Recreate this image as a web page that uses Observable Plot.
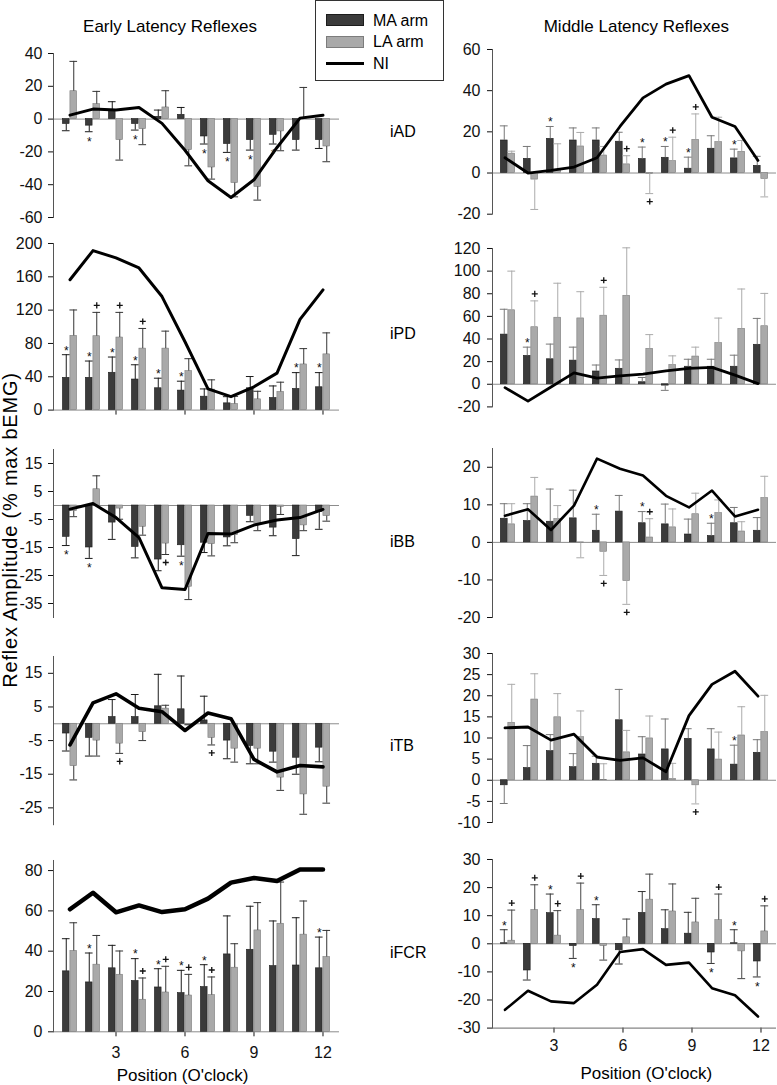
<!DOCTYPE html>
<html><head><meta charset="utf-8">
<script src="https://cdn.jsdelivr.net/npm/d3@7"></script>
<script src="https://cdn.jsdelivr.net/npm/@observablehq/plot@0.6"></script>
<style>
body{margin:0;background:#fff;}
#chart{position:relative;width:777px;height:1085px;background:#fff;font-family:"Liberation Sans",Arial,sans-serif;color:#000;overflow:hidden}
.abs{position:absolute;white-space:nowrap;line-height:1}
.panel{position:absolute}
</style></head><body><div id="chart"></div>
<script>
// ---------- categories & tick labels ----------
var positions = [1,2,3,4,5,6,7,8,9,10,11,12];
var xTicks = [3,6,9,12];
var series = ["MA arm","LA arm","NI"];
var columnTitles = ["Early Latency Reflexes","Middle Latency Reflexes"];
var muscles = ["iAD","iPD","iBB","iTB","iFCR"];

var early_iAD_domain = [-60,40],  early_iAD_ticks = [-60,-40,-20,0,20,40];
var middle_iAD_domain = [-20,60], middle_iAD_ticks = [-20,0,20,40,60];
var early_iPD_domain = [0,200],   early_iPD_ticks = [0,40,80,120,160,200];
var middle_iPD_domain = [-20,120],middle_iPD_ticks = [-20,0,20,40,60,80,100,120];
var early_iBB_domain = [-40,20],  early_iBB_ticks = [-35,-25,-15,-5,5,15];
var middle_iBB_domain = [-20,25], middle_iBB_ticks = [-20,-10,0,10,20];
var early_iTB_domain = [-30,20],  early_iTB_ticks = [-25,-15,-5,5,15];
var middle_iTB_domain = [-10,30], middle_iTB_ticks = [-10,-5,0,5,10,15,20,25,30];
var early_iFCR_domain = [0,85],   early_iFCR_ticks = [0,20,40,60,80];
var middle_iFCR_domain = [-30,30],middle_iFCR_ticks = [-30,-20,-10,0,10,20,30];

// ---------- values (MA = mean, MAerr = error bar end) ----------
var early_iAD_MA    = [-3,-4,5,-3,1.4,2.6,-10.6,-15.2,-12.8,-9.6,-12.8,-12.8];
var early_iAD_MAerr = [-7.1,-7.7,10.6,-6.7,5.5,7.1,-15.2,-20.3,-18.9,-15.2,-18.9,-17.9];
var early_iAD_LA    = [17,9.1,-12.8,-6.1,7.1,-18.9,-29.5,-39,-41.3,-7.5,0.3,-16.7];
var early_iAD_LAerr = [35.2,16.9,-25,-15.6,17.3,-28.5,-36.6,-47.4,-49.4,-19.3,19.3,-26];
var early_iAD_NI    = [2.4,6.1,5.5,7.1,-2.6,-19,-37.6,-47.8,-37,-17.3,0.6,2.4];
var early_iAD_MAsig = ["","*","","*","","","*","*","*","*","",""];
var early_iAD_LAsig = ["","","","","","","","","","","",""];

var middle_iAD_MA    = [15.8,6.9,16.6,15.8,15.8,15.2,6.8,7.4,2.1,11.8,7.1,3.5];
var middle_iAD_MAerr = [22.9,12.9,22.6,21.9,21.9,19.8,12.6,12.9,7.7,18.1,11.6,8.1];
var middle_iAD_LA    = [9.4,-3.2,1.6,12.9,8.5,4.2,-0.4,5.8,16.1,15,10.3,-2.9];
var middle_iAD_LAerr = [10.6,-17.7,14.2,19.7,12.9,8.4,-10,17.4,28.7,27.1,15.8,-11.6];
var middle_iAD_NI    = [7.4,0,1.3,2.9,7.4,22.6,36.5,43.2,47.3,27.1,22.6,6.1];
var middle_iAD_MAsig = ["","","*","","","","*","*","*","","*",""];
var middle_iAD_LAsig = ["","","","","","+","+","+","+","","",""];

var early_iPD_MA    = [38.7,38.7,44.8,36.7,26.2,23.4,16.1,8.1,26.2,14.5,25.4,27.4];
var early_iPD_MAerr = [66.5,58.9,63.7,54.4,38.3,34.7,25.4,16.1,40.3,29,45,45];
var early_iPD_LA    = [89.1,88.7,87.1,73.8,73.8,46.8,24.6,7.3,12.9,21.8,54.8,66.9];
var early_iPD_LAerr = [120.2,117.3,117.3,98,94.8,61.7,36.3,16.5,22.6,33.5,73.8,92.7];
var early_iPD_NI    = [156.5,191.5,182.7,170.6,136.3,82,25.4,16.1,28,44.4,108.9,144.4];
var early_iPD_MAsig = ["*","*","*","*","*","*","","","","","*","*"];
var early_iPD_LAsig = ["","+","+","+","","","","","","","",""];

var middle_iPD_MA    = [43.9,25.1,22.1,20.9,11.3,13.7,1.8,-1.2,15.5,15.5,15.5,34.9];
var middle_iPD_MAerr = [66.3,32.8,35.5,32.8,17,21.5,6,-5.4,22.1,22.1,25.7,58.2];
var middle_iPD_LA    = [65.4,50.4,58.8,58.2,60.6,78.2,31.3,17,24.5,36.4,49,51.3];
var middle_iPD_LAerr = [100,73.7,89.3,81.8,85.7,120.6,43.9,25.1,32.8,58.5,84.2,80.3];
var middle_iPD_NI    = [-3,-14.9,-2.4,10.1,5.4,7.5,9,11.9,14,14.9,8.1,0.6];
var middle_iPD_MAsig = ["","*","","","","","","","","","",""];
var middle_iPD_LAsig = ["","+","","","+","","","","","","",""];

var early_iBB_MA    = [-11.2,-15,-6.1,-14.8,-19.3,-14.2,-13.3,-11.4,-3.7,-7.9,-12,-2.3];
var early_iBB_MAerr = [-14.3,-18.9,-12.1,-18.7,-23.3,-18.1,-16.8,-14.4,-5.8,-10.8,-17.9,-8.5];
var early_iBB_LA    = [-2,5.8,-1.1,-7.6,-13.6,-29,-13.8,-10.6,-6.8,-0.5,-7.1,-3.8];
var early_iBB_LAerr = [-4,10.6,-4.9,-10.6,-17.5,-33.6,-18,-13.3,-9,-3.2,-9,-5.6];
var early_iBB_NI    = [-1.3,0.7,-4.3,-11.5,-29.4,-30,-10,-10.2,-7,-5.2,-4.3,-1.4];
var early_iBB_MAsig = ["*","*","","","","*","","","","","",""];
var early_iBB_LAsig = ["","","","","+","","","","","","",""];

var middle_iBB_MA    = [6.3,5.7,5.5,6.4,3.1,8.2,5.1,4.8,2.1,1.7,5.1,3.1];
var middle_iBB_MAerr = [10.3,10.3,14.2,13.9,7.5,12.5,8.2,10.2,6.2,5.1,9.3,6.6];
var middle_iBB_LA    = [4.8,12.2,6.2,-0.2,-2.5,-10.3,1.3,4,7.5,7.8,2.9,11.8];
var middle_iBB_LAerr = [10.3,17.3,9.8,-4.1,-8.8,-16.5,6.3,8.9,13.1,11.3,5.5,17.6];
var middle_iBB_NI    = [7.1,8.8,3.3,9.8,22.3,19.6,17.8,12.4,9.3,13.8,6.9,8.7];
var middle_iBB_MAsig = ["","","","","*","","*","","","*","",""];
var middle_iBB_LAsig = ["","","","","+","+","+","","","","",""];

var early_iTB_MA    = [-2.9,-4.2,2,2,5.2,4.3,1,-5,-6.6,-8.3,-10.1,-7.1];
var early_iTB_MAerr = [-8.1,-9.6,7.2,8.7,14.7,14.2,8.2,-10.4,-11.9,-11.4,-15,-11.3];
var early_iTB_LA    = [-12.6,-5,-5.9,-2.5,4.5,-0.3,-4.2,-7.4,-7.4,-16,-21,-18.7];
var early_iTB_LAerr = [-16.7,-9.6,-8.8,-5,5.5,-0.3,-6.3,-11.4,-11.9,-19.8,-26.9,-23.6];
var early_iTB_NI    = [-6.3,6.2,8.9,4.6,3.6,-2,3.2,1.5,-10.6,-14.3,-12.4,-12.8];
var early_iTB_MAsig = ["","","","","","","","","","","",""];
var early_iTB_LAsig = ["","","+","","","","+","","","","",""];

var middle_iTB_MA    = [-1.2,2.9,6.9,3.1,3.9,14.2,6.1,7.3,9.8,7.3,3.7,6.5];
var middle_iTB_MAerr = [-5.5,8.2,10.8,6.3,5.7,21.5,10.3,14.5,12.2,12.2,8.3,9.6];
var middle_iTB_LA    = [13.6,19.1,14.9,10.2,0.1,6.6,9.9,0.3,-1.2,4.9,10.6,11.4];
var middle_iTB_LAerr = [22.7,25.2,20.5,16.4,3.9,11.8,15.2,4,-5.6,11.4,17.4,20.1];
var middle_iTB_NI    = [12.4,12.6,9.5,10.9,5.5,4.7,5.3,2,15.3,22.7,25.8,19.9];
var middle_iTB_MAsig = ["","","","","","","","","","","*",""];
var middle_iTB_LAsig = ["","","","","","","","","+","","",""];

var early_iFCR_MA    = [30,24.5,31.5,25.2,22,19.2,22.2,38.4,40.7,32.6,32.9,31.5];
var early_iFCR_MAerr = [46.2,39.1,42.9,36.3,31.3,30.5,33.3,57.5,62.3,55,56.6,47];
var early_iFCR_LA    = [40.1,33.3,28.3,15.9,19.5,18,18.2,31.8,50.3,53.6,48.2,37.1];
var early_iFCR_LAerr = [54.1,47.8,40.1,26.7,32.5,28.5,27.2,43.7,64.1,74.3,64.9,50.3];
var early_iFCR_NI    = [60.8,69,59.3,62.7,59.4,60.8,66.1,74,76.3,74.8,80.5,80.5];
var early_iFCR_MAsig = ["","*","","*","*","*","*","","","","","*"];
var early_iFCR_LAsig = ["","","","+","+","+","+","","","","",""];

var middle_iFCR_MA    = [0.2,-9.5,10.9,-0.8,8.8,-2.3,11,5.2,3.6,-3.1,0.2,-6.3];
var middle_iFCR_MAerr = [5,-12.9,17.7,-5.2,13.9,-7.2,18.6,12.1,11.2,-7,5,-11.8];
var middle_iFCR_LA    = [1.1,12,2.9,12,-0.8,2.3,15.7,11.5,7.6,8.4,-2.7,4.4];
var middle_iFCR_LAerr = [12,21,11.8,21.6,-5.8,8.8,24.8,21.3,16.2,17.7,-12.4,13.5];
var middle_iFCR_NI    = [-23.5,-16.7,-20.5,-21.1,-14.6,-2.9,-1.9,-7.5,-6.7,-15.8,-18.3,-25.9];
var middle_iFCR_MAsig = ["*","","*","*","*","","","","","*","*","*"];
var middle_iFCR_LAsig = ["+","+","+","+","","","","","","+","","+"];

// ---------- layout (styles / positions only) ----------
var FONT = "Liberation Sans, Arial, sans-serif";
var COL = {
  L: {left:0,   width:390, ml:53,  mr:51, tickPad:6, lineDx:0,  errMA:"#1a1a1a", errLA:"#333"},
  R: {left:390, width:387, ml:102, mr:1,  tickPad:7, lineDx:-3, errMA:"#777",    errLA:"#ababab"}
};
function mk(side, name, yTop, yBot, lw, xAxis, err){
  const g = n => window[name + "_" + n];
  return {side, yTop, yBot, lw, xAxis, err,
    domain: g("domain"), ticks: g("ticks"),
    MA: g("MA"), MAerr: g("MAerr"), LA: g("LA"), LAerr: g("LAerr"), NI: g("NI"),
    MAsig: g("MAsig"), LAsig: g("LAsig")};
}
var panels = [
  mk("L","early_iAD",   52.7, 216.7, 3,   null),
  mk("R","middle_iAD",  49,   213.7, 2.8, null),
  mk("L","early_iPD",   242.7,409.3, 3,   "ticks"),
  mk("R","middle_iPD",  248.3,406.7, 2.8, null),
  mk("L","early_iBB",   449.3,617.3, 3,   null),
  mk("R","middle_iBB",  448.3,617.3, 2.6, null),
  mk("L","early_iTB",   655.8,824,   3.6, null),
  mk("R","middle_iTB",  652.7,821.7, 2.8, null),
  mk("L","early_iFCR",  860,  1031.3,4.5, "labels"),
  mk("R","middle_iFCR", 858.7,1027.3,2.6, "labels", ["#333","#444"])
];
</script>
<script>
const chart = document.getElementById("chart");
function addText(txt, left, top, size, extra){
  const d = document.createElement("div");
  d.className = "abs"; d.textContent = txt;
  d.style.left = left + "px"; d.style.top = top + "px"; d.style.fontSize = size + "px";
  if (extra) Object.assign(d.style, extra);
  chart.appendChild(d); return d;
}

panels.forEach(cfg => {
  const C = COL[cfg.side];
  const errMA = cfg.err ? cfg.err[0] : C.errMA, errLA = cfg.err ? cfg.err[1] : C.errLA;
  const rows = positions.map((p,i) => ({pos:p, MA:cfg.MA[i], MAerr:cfg.MAerr[i], LA:cfg.LA[i], LAerr:cfg.LAerr[i],
    NI:cfg.NI[i], MAsig:cfg.MAsig[i], LAsig:cfg.LAsig[i]}));
  const mt = 14, mb = cfg.xAxis ? 36 : 14;
  const step = (C.width - C.ml - C.mr) / positions.length;
  const half = step/2, bw = 7.5;
  const isR = cfg.side === "R";
  const marks = [
    Plot.ruleY([0], {stroke:"#8c8c8c", strokeWidth:1}),
    Plot.barY(rows, {x:"pos", y:"MA", fill:"#3b3b3b", stroke:"#1c1c1c", strokeWidth:0.6, insetLeft:half-bw, insetRight:half}),
    Plot.barY(rows, {x:"pos", y:"LA", fill:"#a9a9a9", stroke:"#7c7c7c", strokeWidth:0.6, insetLeft:half, insetRight:half-bw}),
    Plot.ruleX(rows, {x:"pos", y1:"MA", y2:"MAerr", dx:-bw/2, stroke:errMA, strokeWidth:1}),
    Plot.ruleX(rows, {x:"pos", y1:"LA", y2:"LAerr", dx:bw/2, stroke:errLA, strokeWidth:1}),
    Plot.tickY(rows, {x:"pos", y:"MAerr", insetLeft:half-bw-0.5, insetRight:half-0.5, stroke:errMA, strokeWidth:1}),
    Plot.tickY(rows, {x:"pos", y:"LAerr", insetLeft:half-0.5, insetRight:half-bw-0.5, stroke:errLA, strokeWidth:1}),
    Plot.lineY(rows, {x:"pos", y:"NI", stroke:"#000", strokeWidth:cfg.lw, dx:C.lineDx}),
    Plot.text(rows, {filter:d => d.MAsig && d.MAerr >= d.MA, x:"pos", y:"MAerr", text:"MAsig", dx:-bw/2, dy:-4, fontSize:12, fill:"#111"}),
    Plot.text(rows, {filter:d => d.MAsig && d.MAerr < d.MA, x:"pos", y:"MAerr", text:"MAsig", dx:-bw/2, dy:10, fontSize:12, fill:"#111"}),
    Plot.dot(rows, {filter:d => d.LAsig && d.LAerr >= d.LA, x:"pos", y:"LAerr", symbol:"plus", r:2.1, dx:bw/2, dy:-7, stroke:"#111", strokeWidth:1.3}),
    Plot.dot(rows, {filter:d => d.LAsig && d.LAerr < d.LA, x:"pos", y:"LAerr", symbol:"plus", r:2.1, dx:bw/2, dy:8, stroke:"#111", strokeWidth:1.3}),
    Plot.frame({anchor:"left", stroke:"#555"})
  ];
  if (cfg.xAxis && isR) marks.push(Plot.ruleY([cfg.domain[0]], {stroke:"#666"}));
  const plot = Plot.plot({
    width: C.width, height: (cfg.yBot - cfg.yTop) + mt + mb,
    marginTop: mt, marginBottom: mb, marginLeft: C.ml, marginRight: C.mr,
    style: {fontFamily: FONT, fontSize: "16px", background: "transparent", overflow: "visible", color: "#111"},
    x: {type:"band", domain: positions, padding: 0,
        axis: cfg.xAxis ? "bottom" : null, ticks: xTicks, tickSize: 5,
        tickPadding: isR ? 7 : 10, label: null,
        tickFormat: cfg.xAxis === "labels" ? (d => String(d)) : (() => "")},
    y: {domain: cfg.domain, ticks: cfg.ticks, tickFormat: d => String(d), tickSize: 5, tickPadding: C.tickPad, label: null},
    marks
  });
  const wrap = document.createElement("div");
  wrap.className = "panel";
  wrap.style.left = C.left + "px";
  wrap.style.top = (cfg.yTop - mt) + "px";
  wrap.style.width = C.width + "px";
  wrap.appendChild(plot);
  chart.appendChild(wrap);
});

// column titles
addText(columnTitles[0], 170, 18.3, 17, {transform:"translateX(-50%)"});
addText(columnTitles[1], 636.3, 18.3, 17, {transform:"translateX(-50%)"});
// muscle labels
const muscleCenters = [131.5, 334, 541.5, 746, 952.5];
muscles.forEach((m,i) => addText(m, 390, muscleCenters[i] - 8, 16));
// axis titles
addText("Position (O'clock)", 182.5, 1066.6, 17, {transform:"translateX(-50%)"});
addText("Position (O'clock)", 646.3, 1064.6, 17, {transform:"translateX(-50%)"});
addText("Reflex Amplitude (% max bEMG)", 10, 530, 20, {transform:"translate(-50%,-50%) rotate(-90deg)", letterSpacing:"0.8px"});

// legend
const lg = document.createElement("div");
Object.assign(lg.style, {position:"absolute", left:"315px", top:"0px", width:"129px", height:"81px",
  border:"1px solid #333", background:"#fff", boxSizing:"border-box"});
chart.appendChild(lg);
const sw = [
  {top:14, h:12, fill:"#3b3b3b", stroke:"#1c1c1c"},
  {top:36, h:11.5, fill:"#a9a9a9", stroke:"#7c7c7c"}
];
sw.forEach(s => {
  const d = document.createElement("div");
  Object.assign(d.style, {position:"absolute", left:"326px", top:s.top+"px", width:"38px", height:s.h+"px",
    background:s.fill, border:"1px solid "+s.stroke, boxSizing:"border-box"});
  chart.appendChild(d);
});
const ln = document.createElement("div");
Object.assign(ln.style, {position:"absolute", left:"326px", top:"62px", width:"38px", height:"3px", background:"#000"});
chart.appendChild(ln);
[20.8, 41.7, 63.5].forEach((c,i) => addText(series[i], 373, c - 7.8, 16));
</script>
</body></html>
